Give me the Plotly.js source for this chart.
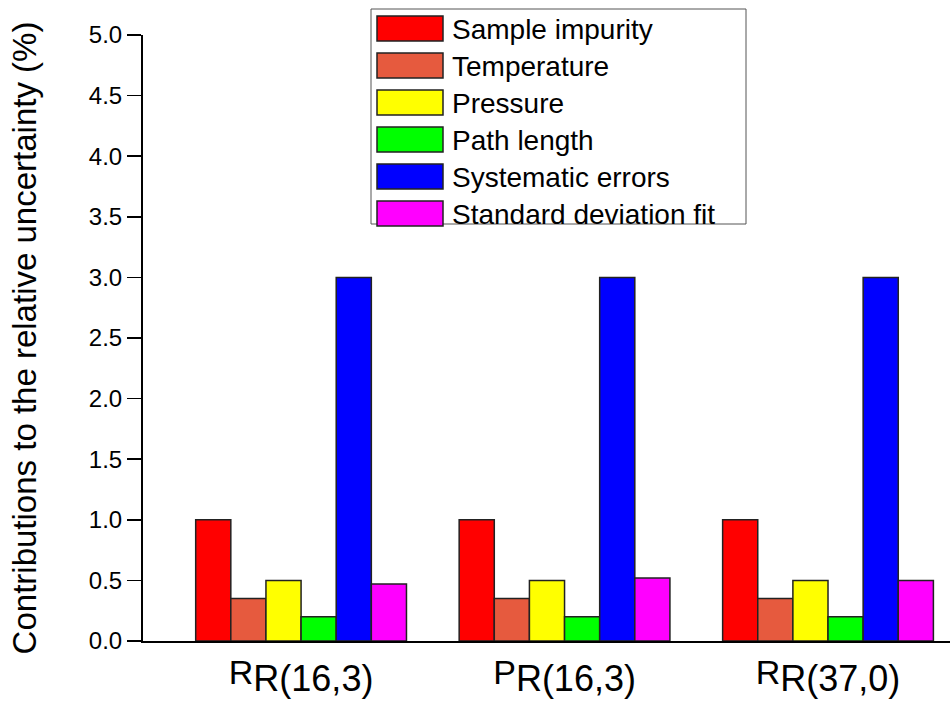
<!DOCTYPE html>
<html>
<head>
<meta charset="utf-8">
<script src="https://cdn.plot.ly/plotly-3.0.1.min.js"></script>
<style>html,body{margin:0;padding:0;background:#fff}#chart{width:950px;height:708px}</style>
</head>
<body>
<div id="chart"></div>
<script>
var categories = ["R_R(16,3)", "P_R(16,3)", "R_R(37,0)"];
var tickLabels = [
  "R<sub><span style='font-size:36px'>R(16,3)</span></sub>",
  "P<sub><span style='font-size:36px'>R(16,3)</span></sub>",
  "R<sub><span style='font-size:36px'>R(37,0)</span></sub>"
];
var seriesNames = ["Sample impurity", "Temperature", "Pressure", "Path length", "Systematic errors", "Standard deviation fit"];
var seriesColors = ["#FF0000", "#E65A3E", "#FFFF00", "#00FF00", "#0000FF", "#FF00FF"];
var sampleImpurity = [1.0, 1.0, 1.0];
var temperature = [0.35, 0.35, 0.35];
var pressure = [0.5, 0.5, 0.5];
var pathLength = [0.2, 0.2, 0.2];
var systematicErrors = [3.0, 3.0, 3.0];
var stdDevFit = [0.47, 0.52, 0.50];
var seriesValues = [sampleImpurity, temperature, pressure, pathLength, systematicErrors, stdDevFit];

var xIdx = [0, 1, 2];
var traces = seriesValues.map(function (vals, i) {
  return {
    type: 'bar',
    x: xIdx,
    y: vals,
    name: seriesNames[i],
    marker: {color: seriesColors[i], line: {color: '#222222', width: 1.5}},
    showlegend: false,
    hoverinfo: 'y'
  };
});

// plot area in pixels (matches margins below)
var PL = 143, PR = 950, PT = 35, PB = 641;
function px(x) { return (x - PL) / (PR - PL); }
function py(y) { return (PB - y) / (PB - PT); }

// custom legend (large swatches like the original)
var shapes = [];
var annotations = [];
shapes.push({type: 'rect', xref: 'paper', yref: 'paper', x0: px(371), x1: px(746), y0: py(224), y1: py(9),
  line: {color: '#555555', width: 1}, fillcolor: '#ffffff', layer: 'above'});
seriesNames.forEach(function (n, i) {
  var cy = 28.5 + i * 37;
  shapes.push({type: 'rect', xref: 'paper', yref: 'paper', x0: px(377), x1: px(443), y0: py(cy + 12.5), y1: py(cy - 12.5),
    line: {color: '#222222', width: 1.5}, fillcolor: seriesColors[i], layer: 'above'});
  annotations.push({xref: 'paper', yref: 'paper', x: px(450), y: py(cy + 1), xanchor: 'left', yanchor: 'middle',
    text: n, showarrow: false, font: {family: 'Liberation Sans, Arial, sans-serif', size: 28, color: '#000'}});
});

var layout = {
  width: 950, height: 708,
  margin: {l: 143, r: 0, t: 35, b: 67, pad: 0},
  paper_bgcolor: '#fff', plot_bgcolor: '#fff',
  barmode: 'group', bargap: 0.2, bargroupgap: 0,
  font: {family: 'Liberation Sans, Arial, sans-serif', color: '#000'},
  xaxis: {
    range: [-0.6, 2.463], tickmode: 'array', tickvals: xIdx, ticktext: tickLabels,
    ticks: '', showgrid: false, zeroline: false, showline: true, linecolor: '#000', linewidth: 2,
    tickfont: {size: 34, color: '#000'}
  },
  yaxis: {
    range: [0, 5], dtick: 0.5, tickformat: '.1f', ticks: 'outside', ticklen: 14, tickwidth: 1.5, tickcolor: '#000',
    showgrid: false, zeroline: false, showline: true, linecolor: '#000', linewidth: 2,
    tickfont: {size: 24, color: '#000'},
    title: {text: 'Contributions to the relative uncertainty (%)', font: {size: 33, color: '#000'}, standoff: 42}
  },
  shapes: shapes,
  annotations: annotations
};

Plotly.newPlot('chart', traces, layout, {displayModeBar: false, staticPlot: true});
</script>
</body>
</html>
